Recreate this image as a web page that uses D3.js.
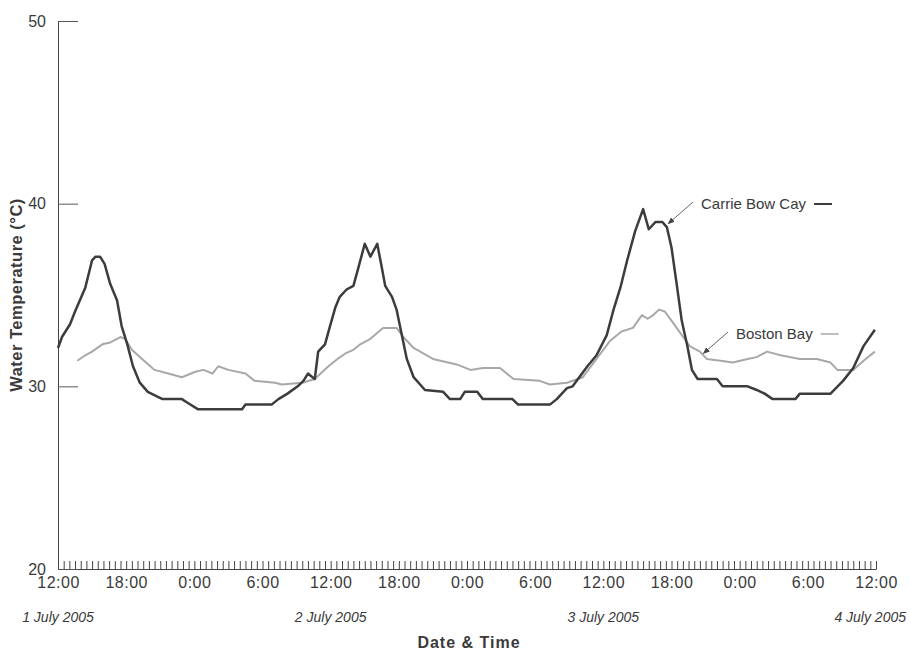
<!DOCTYPE html>
<html>
<head>
<meta charset="utf-8">
<script src="https://cdn.jsdelivr.net/npm/d3@7"></script>
<style>
  body { margin: 0; background: #fff; }
  text { font-family: "Liberation Sans", Arial, sans-serif; fill: #3a3a3a; }
</style>
</head>
<body>
<div id="chart"></div>
<script>
// hours after 12:00 on 1 July 2005, water temperature in deg C
var carrieBowCay = [
  [0, 32.1], [0.35, 32.7], [1.06, 33.4], [1.5, 34.1], [2.4, 35.4], [3.0, 36.9], [3.3, 37.1], [3.7, 37.1],
  [4.1, 36.7], [4.6, 35.6], [5.2, 34.7], [5.6, 33.3], [6.1, 32.3], [6.6, 31.1], [7.2, 30.2], [7.9, 29.7],
  [9.2, 29.3], [10.9, 29.3], [11.4, 29.1], [12.3, 28.75], [16.2, 28.75], [16.5, 29.0], [18.8, 29.0],
  [19.4, 29.3], [20.2, 29.6], [21.1, 30.0], [21.6, 30.3], [22.0, 30.7], [22.4, 30.5], [22.6, 30.4],
  [22.9, 31.9], [23.5, 32.3], [23.9, 33.2], [24.4, 34.3], [24.8, 34.9], [25.4, 35.3], [26.0, 35.5],
  [26.4, 36.4], [27.0, 37.8], [27.5, 37.1], [28.1, 37.8], [28.5, 36.5], [28.8, 35.5], [29.4, 34.9],
  [29.8, 34.2], [30.3, 32.7], [30.7, 31.5], [31.3, 30.5], [32.3, 29.8], [33.9, 29.7], [34.5, 29.3],
  [35.4, 29.3], [35.8, 29.7], [36.9, 29.7], [37.4, 29.3], [40.0, 29.3], [40.5, 29.0], [43.3, 29.0],
  [43.9, 29.3], [44.8, 29.9], [45.3, 30.0], [46.6, 31.1], [47.4, 31.7], [48.3, 32.8], [48.9, 34.2],
  [49.5, 35.4], [50.1, 36.9], [50.8, 38.5], [51.5, 39.7], [52.0, 38.6], [52.6, 39.0], [53.2, 39.0],
  [53.6, 38.7], [54.0, 37.6], [54.5, 35.4], [54.9, 33.6], [55.4, 32.2], [55.8, 30.9], [56.3, 30.4],
  [58.0, 30.4], [58.5, 30.0], [60.7, 30.0], [61.5, 29.8], [62.2, 29.6], [62.9, 29.3], [64.9, 29.3],
  [65.3, 29.6], [68.0, 29.6], [69.1, 30.3], [70.0, 31.0], [70.9, 32.2], [71.9, 33.1]
];

var bostonBay = [
  [1.7, 31.4], [2.4, 31.7], [3.0, 31.9], [3.9, 32.3], [4.6, 32.4], [5.5, 32.7], [5.9, 32.6], [6.5, 32.0],
  [7.4, 31.5], [8.5, 30.9], [9.7, 30.7], [10.9, 30.5], [12.1, 30.8], [12.8, 30.9], [13.6, 30.7],
  [14.1, 31.1], [15.0, 30.9], [16.5, 30.7], [17.3, 30.3], [19.1, 30.2], [19.7, 30.1], [21.5, 30.2],
  [22.6, 30.4], [23.8, 31.1], [24.6, 31.5], [25.3, 31.8], [26.0, 32.0], [26.6, 32.3], [27.5, 32.6],
  [28.6, 33.2], [29.8, 33.2], [30.4, 32.7], [31.3, 32.1], [33.0, 31.5], [35.1, 31.2], [36.3, 30.9],
  [37.4, 31.0], [38.9, 31.0], [40.1, 30.4], [42.4, 30.3], [43.3, 30.1], [44.8, 30.2], [46.2, 30.5],
  [47.4, 31.5], [48.6, 32.5], [49.6, 33.0], [50.6, 33.2], [51.4, 33.9], [51.9, 33.7], [52.4, 33.9],
  [52.9, 34.2], [53.4, 34.1], [54.0, 33.6], [54.8, 32.9], [55.6, 32.2], [56.5, 31.9], [57.1, 31.5],
  [58.3, 31.4], [59.4, 31.3], [60.7, 31.5], [61.5, 31.6], [62.4, 31.9], [63.6, 31.7], [65.3, 31.5],
  [66.8, 31.5], [68.0, 31.3], [68.6, 30.9], [70.0, 30.9], [70.9, 31.4], [71.9, 31.9]
];

var timeLabels = ['12:00', '18:00', '0:00', '6:00', '12:00', '18:00', '0:00', '6:00',
                  '12:00', '18:00', '0:00', '6:00', '12:00'];
var dateLabels = ['1 July 2005', '2 July 2005', '3 July 2005', '4 July 2005'];
var yTicks = [20, 30, 40, 50];

var width = 911, height = 651;

var svg = d3.select('#chart').append('svg')
    .attr('width', width)
    .attr('height', height);

var x = d3.scaleLinear().domain([0, 72]).range([58, 876]);
var y = d3.scaleLinear().domain([20, 50]).range([569, 21]);

// minor ticks every half hour, pointing into the plot
var halfHours = d3.range(0, 72.01, 0.5);
var minorAxis = svg.append('g')
    .attr('transform', 'translate(0,' + y(20) + ')')
    .call(d3.axisBottom(x).tickValues(halfHours).tickSize(-8).tickSizeOuter(0).tickFormat(''));
minorAxis.select('.domain').attr('stroke', '#444');
minorAxis.selectAll('.tick line').attr('stroke', '#444');

// hour labels every 6 hours
var labelAxis = svg.append('g')
    .attr('transform', 'translate(0,' + y(20) + ')')
    .call(d3.axisBottom(x).tickValues(d3.range(0, 72.01, 6)).tickSize(0).tickPadding(8)
      .tickFormat(function (d, i) { return timeLabels[i]; }));
labelAxis.select('.domain').remove();
labelAxis.selectAll('text')
    .attr('font-size', '16px')
    .attr('font-family', '"Liberation Sans", Arial, sans-serif')
    .attr('fill', '#3a3a3a')
    .attr('letter-spacing', '0.5px');

// date labels under each midday, kept inside the picture
svg.selectAll('.date-label')
    .data(dateLabels)
    .enter().append('text')
    .attr('class', 'date-label')
    .attr('y', 622)
    .attr('text-anchor', 'middle')
    .attr('font-size', '14px')
    .attr('font-style', 'italic')
    .text(function (d) { return d; })
    .attr('x', function (d, i) {
        var half = this.getComputedTextLength() / 2;
        return Math.max(half + 4, Math.min(x(i * 24), width - half - 5));
    });

// Y axis
var yAxis = svg.append('g')
    .attr('transform', 'translate(' + x(0) + ',0)')
    .call(d3.axisLeft(y).tickValues(yTicks).tickSize(-20).tickSizeOuter(0).tickPadding(12));
yAxis.select('.domain').attr('stroke', '#444');
yAxis.selectAll('.tick line').attr('stroke', '#555');
yAxis.selectAll('text')
    .attr('font-size', '16px')
    .attr('font-family', '"Liberation Sans", Arial, sans-serif')
    .attr('fill', '#3a3a3a');

// axis titles
svg.append('text')
    .attr('x', 469)
    .attr('y', 648)
    .attr('text-anchor', 'middle')
    .attr('font-size', '16px')
    .attr('font-weight', 'bold')
    .attr('letter-spacing', '1px')
    .text('Date & Time');

svg.append('text')
    .attr('transform', 'translate(22,295) rotate(-90)')
    .attr('text-anchor', 'middle')
    .attr('font-size', '16.5px')
    .attr('font-weight', 'bold')
    .attr('letter-spacing', '0.5px')
    .text('Water Temperature (°C)');

// lines
var line = d3.line()
    .x(function (d) { return x(d[0]); })
    .y(function (d) { return y(d[1]); });

svg.append('path')
    .datum(bostonBay)
    .attr('fill', 'none')
    .attr('stroke', '#a8a8a8')
    .attr('stroke-width', 2)
    .attr('stroke-linejoin', 'round')
    .attr('d', line);

svg.append('path')
    .datum(carrieBowCay)
    .attr('fill', 'none')
    .attr('stroke', '#3c3c3c')
    .attr('stroke-width', 2.5)
    .attr('stroke-linejoin', 'round')
    .attr('d', line);

// annotation arrows
svg.append('defs').append('marker')
    .attr('id', 'arrow')
    .attr('viewBox', '0 0 10 10')
    .attr('refX', 9).attr('refY', 5)
    .attr('markerWidth', 7).attr('markerHeight', 7)
    .attr('orient', 'auto')
    .append('path')
    .attr('d', 'M0,1 L10,5 L0,9 z')
    .attr('fill', '#444');

function annotate(label, anchor, textPos, dashColor, dashWidth) {
    svg.append('line')
        .attr('x1', textPos[0] - 8).attr('y1', textPos[1] - 2)
        .attr('x2', x(anchor[0])).attr('y2', y(anchor[1]))
        .attr('stroke', '#666')
        .attr('stroke-width', 1)
        .attr('marker-end', 'url(#arrow)');
    var t = svg.append('text')
        .attr('x', textPos[0])
        .attr('y', textPos[1] + 5)
        .attr('font-size', '15px')
        .text(label);
    var w = t.node().getComputedTextLength();
    svg.append('line')
        .attr('x1', textPos[0] + w + 8).attr('x2', textPos[0] + w + 26)
        .attr('y1', textPos[1]).attr('y2', textPos[1])
        .attr('stroke', dashColor)
        .attr('stroke-width', dashWidth);
}

annotate('Carrie Bow Cay', [53.7, 38.9], [701, 204], '#3c3c3c', 2);
annotate('Boston Bay', [56.8, 31.8], [736, 334], '#a8a8a8', 1.5);
</script>
</body>
</html>
